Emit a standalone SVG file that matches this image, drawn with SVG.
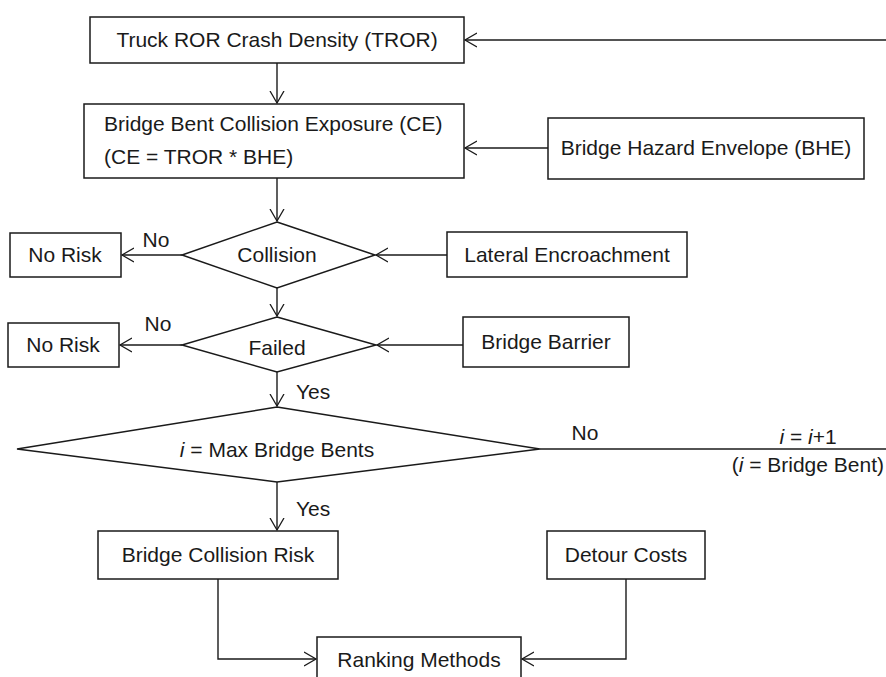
<svg xmlns="http://www.w3.org/2000/svg" width="886" height="677" viewBox="0 0 886 677">
<defs>
<marker id="arr" markerUnits="userSpaceOnUse" markerWidth="14" markerHeight="16" refX="12" refY="8" orient="auto">
<path d="M0,1 L12,8 L0,15" fill="none" stroke="#1a1a1a" stroke-width="1.3"/>
</marker>
</defs>
<style>
.b{fill:#fff;stroke:#1a1a1a;stroke-width:1.5}
.c{fill:none;stroke:#1a1a1a;stroke-width:1.4}
text{font-family:"Liberation Sans",Arial,sans-serif;font-size:21px;fill:#1a1a1a}
.m{text-anchor:middle}
</style>
<rect width="886" height="677" fill="#fff"/>
<g id="connectors">
<path class="c" d="M886,40 H465" marker-end="url(#arr)"/>
<path class="c" d="M277,63 V103" marker-end="url(#arr)"/>
<path class="c" d="M548,148 H465" marker-end="url(#arr)"/>
<path class="c" d="M277,178 V221" marker-end="url(#arr)"/>
<path class="c" d="M182,255 H122" marker-end="url(#arr)"/>
<path class="c" d="M447,255 H376" marker-end="url(#arr)"/>
<path class="c" d="M277,288 V316" marker-end="url(#arr)"/>
<path class="c" d="M182,345 H120" marker-end="url(#arr)"/>
<path class="c" d="M463,345 H377" marker-end="url(#arr)"/>
<path class="c" d="M277,372 V406" marker-end="url(#arr)"/>
<path class="c" d="M540,449 H886"/>
<path class="c" d="M277,482 V530" marker-end="url(#arr)"/>
<path class="c" d="M218,579 V659 H316" marker-end="url(#arr)"/>
<path class="c" d="M626,579 V659 H522" marker-end="url(#arr)"/>
<text x="156" y="247" class="m">No</text>
<text x="158" y="331" class="m">No</text>
<text x="296" y="399">Yes</text>
<text x="585" y="440" class="m">No</text>
<text x="808" y="444" class="m"><tspan font-style="italic">i</tspan> = <tspan font-style="italic">i</tspan>+1</text>
<text x="884" y="472" text-anchor="end">(<tspan font-style="italic">i</tspan> = Bridge Bent)</text>
<text x="296" y="516">Yes</text>
</g>
<g id="tror">
<rect class="b" x="90" y="17" width="374" height="46"/>
<text x="277" y="47" class="m">Truck ROR Crash Density (TROR)</text>
</g>
<g id="ce">
<rect class="b" x="84" y="104" width="380" height="74"/>
<text x="104" y="131">Bridge Bent Collision Exposure (CE)</text>
<text x="104" y="164">(CE = TROR * BHE)</text>
</g>
<g id="bhe">
<rect class="b" x="548" y="118" width="316" height="61"/>
<text x="706" y="155" class="m">Bridge Hazard Envelope (BHE)</text>
</g>
<g id="collision">
<polygon class="b" points="277,222 375,255 277,288 182,255"/>
<text x="277" y="262" class="m">Collision</text>
</g>
<g id="norisk1">
<rect class="b" x="10" y="233" width="111" height="44"/>
<text x="65" y="262" class="m">No Risk</text>
</g>
<g id="lateral">
<rect class="b" x="447" y="232" width="240" height="45"/>
<text x="567" y="262" class="m">Lateral Encroachment</text>
</g>
<g id="failed">
<polygon class="b" points="277,317 376,345 277,372 182,345"/>
<text x="277" y="355" class="m">Failed</text>
</g>
<g id="norisk2">
<rect class="b" x="8" y="323" width="111" height="44"/>
<text x="63" y="352" class="m">No Risk</text>
</g>
<g id="barrier">
<rect class="b" x="463" y="317" width="166" height="50"/>
<text x="546" y="349" class="m">Bridge Barrier</text>
</g>
<g id="maxbents">
<polygon class="b" points="277,407 540,449 277,482 17,449"/>
<text x="277" y="457" class="m"><tspan font-style="italic">i</tspan> = Max Bridge Bents</text>
</g>
<g id="risk">
<rect class="b" x="98" y="531" width="240" height="48"/>
<text x="218" y="562" class="m">Bridge Collision Risk</text>
</g>
<g id="detour">
<rect class="b" x="547" y="531" width="158" height="48"/>
<text x="626" y="562" class="m">Detour Costs</text>
</g>
<g id="ranking">
<path class="b" d="M317,678 V637 H521 V678"/>
<text x="419" y="667" class="m">Ranking Methods</text>
</g>
</svg>
